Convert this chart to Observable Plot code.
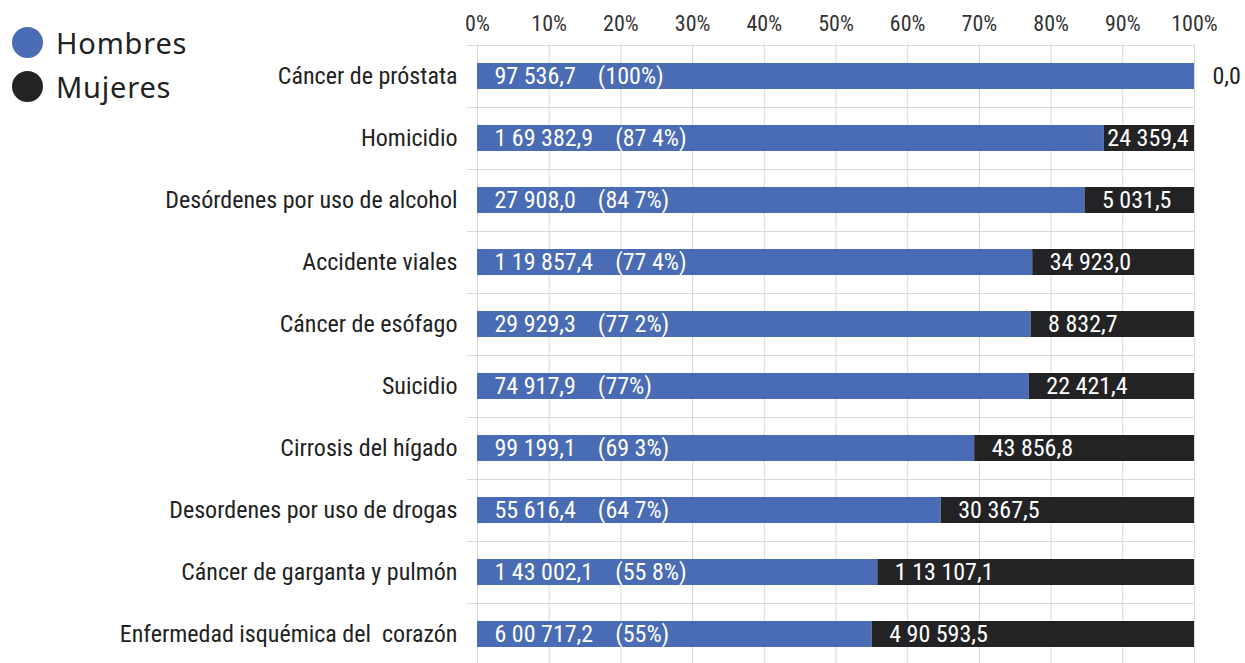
<!DOCTYPE html>
<html>
<head>
<meta charset="utf-8">
<script src="https://cdn.jsdelivr.net/npm/d3@7"></script>
<script src="https://cdn.jsdelivr.net/npm/@observablehq/plot@0.6"></script>
<style>
  html, body { margin: 0; padding: 0; background: #fff; overflow: hidden; }
  #wrap { position: relative; width: 1245px; height: 663px; }
  #chart svg text { white-space: pre; font-stretch: condensed; }
  #legend { position: absolute; left: 12px; top: 20px; font-family: "Noto Sans", "Open Sans", sans-serif; font-size: 29px; color: #222; letter-spacing: 0.8px; }
  #legend .item { display: flex; align-items: center; height: 44px; }
  #legend .dot { width: 31px; height: 31px; border-radius: 50%; margin-right: 13px; }
</style>
</head>
<body>
<div id="wrap">
  <div id="chart"></div>
  <div id="legend"></div>
</div>
<script>
const causes = [
  "Cáncer de próstata",
  "Homicidio",
  "Desórdenes por uso de alcohol",
  "Accidente viales",
  "Cáncer de esófago",
  "Suicidio",
  "Cirrosis del hígado",
  "Desordenes por uso de drogas",
  "Cáncer de garganta y pulmón",
  "Enfermedad isquémica del  corazón"
];
const hombres = [97536.7, 169382.9, 27908.0, 119857.4, 29929.3, 74917.9, 99199.1, 55616.4, 143002.1, 600717.2];
const mujeres = [0.0, 24359.4, 5031.5, 34923.0, 8832.7, 22421.4, 43856.8, 30367.5, 113107.1, 490593.5];
const pctLabels = ["(100%)", "(87 4%)", "(84 7%)", "(77 4%)", "(77 2%)", "(77%)", "(69 3%)", "(64 7%)", "(55 8%)", "(55%)"];
const series = ["Hombres", "Mujeres"];
const colors = ["#4a6cb4", "#232326"];
const xTicks = [0, 0.1, 0.2, 0.3, 0.4, 0.5, 0.6, 0.7, 0.8, 0.9, 1];

function fmt(v) {
  const [i, d] = v.toFixed(1).split(".");
  let out = i;
  if (i.length > 3) {
    const last = i.slice(-3);
    let rest = i.slice(0, -3);
    const groups = [];
    while (rest.length > 2) { groups.unshift(rest.slice(-2)); rest = rest.slice(0, -2); }
    if (rest) groups.unshift(rest);
    out = groups.join(" ") + " " + last;
  }
  return out + "," + d;
}

const rows = [];
causes.forEach((c, i) => {
  const share = hombres[i] / (hombres[i] + mujeres[i]);
  rows.push({cause: c, sex: series[0], x1: 0, x2: share, value: hombres[i], pct: pctLabels[i]});
  rows.push({cause: c, sex: series[1], x1: share, x2: 1, value: mujeres[i]});
});
const male = rows.filter(d => d.sex === series[0]);
const female = rows.filter(d => d.sex === series[1]);

const font = "'Roboto Condensed', 'Liberation Sans Narrow', 'Arial Narrow', Roboto, sans-serif";
const step = (666 - 44) / causes.length;

const chart = Plot.plot({
  width: 1245,
  height: 666,
  marginLeft: 477,
  marginRight: 51,
  marginTop: 44,
  marginBottom: 0,
  style: {fontFamily: font, background: "#fff", color: "#222"},
  x: {domain: [0, 1], axis: null},
  y: {domain: causes, padding: 0, axis: null},
  color: {domain: series, range: colors},
  marks: [
    Plot.gridX(xTicks, {stroke: "#d9d9d9", strokeOpacity: 1}),
    Plot.rect(causes, {x1: -0.014, x2: 1, y: d => d, insetBottom: step - 1.2, fill: "#d9d9d9"}),
    Plot.barX(rows, {x1: "x1", x2: "x2", y: "cause", fill: "sex", insetTop: 18, insetBottom: 18}),
    Plot.axisX(xTicks, {anchor: "top", tickSize: 0, tickPadding: 14, fontSize: 22, fill: "#333",
      tickFormat: d => Math.round(d * 100) + "%"}),
    Plot.axisY({tickSize: 0, tickPadding: 20, fontSize: 24, fill: "#222", label: null}),
    Plot.text(male, {x: "x1", y: "cause", text: d => fmt(d.value) + "    " + d.pct, textAnchor: "start", dx: 17, fill: "#fff", fontSize: 24}),
    Plot.text(female.filter(d => d.x2 - d.x1 >= 0.14), {x: "x1", y: "cause", text: d => fmt(d.value), textAnchor: "start", dx: 17, fill: "#fff", fontSize: 24}),
    Plot.text(female.filter(d => d.x2 - d.x1 > 0 && d.x2 - d.x1 < 0.14), {x: "x1", y: "cause", text: d => fmt(d.value), textAnchor: "start", dx: 3, fill: "#fff", fontSize: 24}),
    Plot.text(female.filter(d => d.x2 - d.x1 === 0), {x: "x1", y: "cause", text: d => fmt(d.value), textAnchor: "start", dx: 18, fill: "#222", fontSize: 24})
  ]
});
document.getElementById("chart").appendChild(chart);

const legend = document.getElementById("legend");
series.forEach((s, i) => {
  const item = document.createElement("div");
  item.className = "item";
  const dot = document.createElement("span");
  dot.className = "dot";
  dot.style.background = colors[i];
  const label = document.createElement("span");
  label.textContent = s;
  item.appendChild(dot);
  item.appendChild(label);
  legend.appendChild(item);
});
</script>
</body>
</html>
